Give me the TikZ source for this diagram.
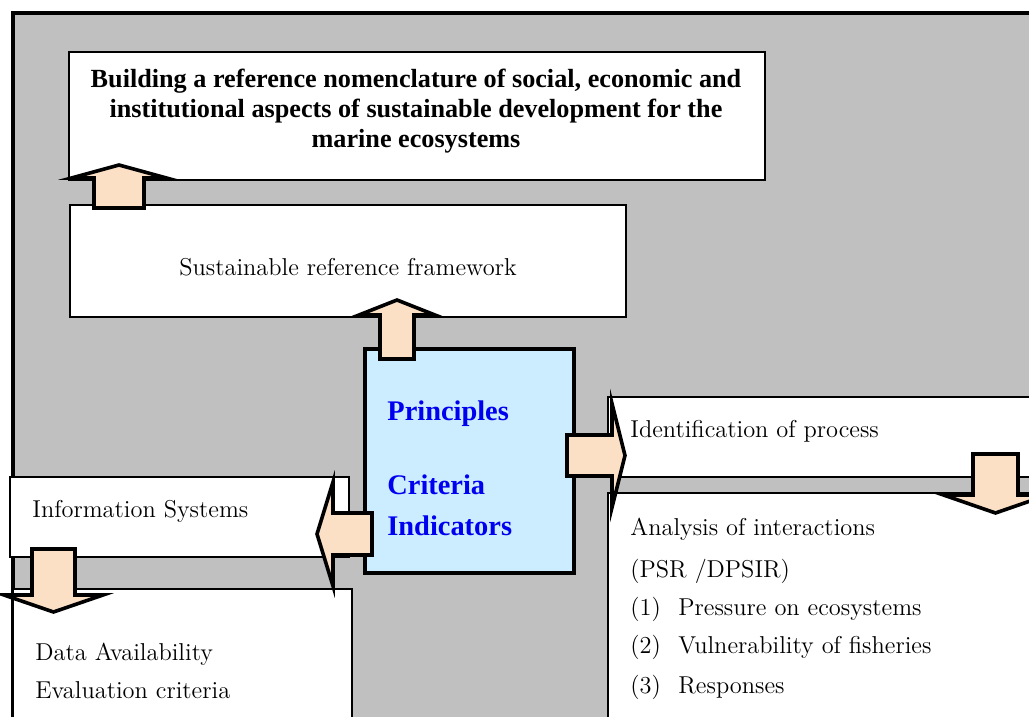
\documentclass[tikz,border=0pt]{standalone}
\usepackage{fontspec}
\newfontfamily\timesfont{Liberation Serif}
\usetikzlibrary{calc}
\definecolor{bggray}{HTML}{C0C0C0}
\definecolor{peach}{HTML}{FBE0C6}
\definecolor{paleblue}{HTML}{CCECFF}
\definecolor{pciblue}{HTML}{0000F0}
\tikzstyle{box} = [draw, fill=white, line width=0.7pt, anchor=north west, inner sep=0pt, outer sep=0pt]
\tikzstyle{txt} = [inner sep=0pt, anchor=base west, font=\fontsize{12.2}{14}\selectfont]
\tikzstyle{pcitxt} = [txt, text=pciblue, font=\timesfont\bfseries\fontsize{14.2}{16}\selectfont]
\tikzstyle{blockarrow} = [draw, fill=peach, line width=1.8pt, miter limit=20]
% fat arrow: from, to, half shaft, half head, head length (px)
\newcommand{\blockarrow}[5]{%
  \draw[blockarrow] let \p1=(#1), \p2=(#2),
    \n1={atan2(\y2-\y1,\x2-\x1)}, \n2={veclen(\x2-\x1,\y2-\y1)} in
    [shift={(\p1)}, rotate=\n1]
    (0pt,{#3*0.5pt}) -- ({\n2-#5*0.5pt},{#3*0.5pt}) -- ({\n2-#5*0.5pt},{#4*0.5pt})
    -- (\n2,0pt) -- ({\n2-#5*0.5pt},{-#4*0.5pt}) -- ({\n2-#5*0.5pt},{-#3*0.5pt})
    -- (0pt,{-#3*0.5pt}) -- cycle;}

\begin{document}
\begin{tikzpicture}[x=0.5pt, y=-0.5pt]
\clip (0,0) rectangle (1029,717);
\draw[fill=bggray, line width=2pt] (13,13) rectangle (1100,800);

% boxes
\node[box, minimum width=348pt, minimum height=64pt] (goal) at (69,52) {};
\node[box, minimum width=278pt, minimum height=56pt] (frame) at (70,205) {};
\node[box, minimum width=226pt, minimum height=40pt] (ident) at (608,397) {};
\node[box, minimum width=226pt, minimum height=140pt] (anal) at (608,493) {};
\node[box, minimum width=169.5pt, minimum height=40pt] (info) at (10,477) {};
\node[box, minimum width=169.5pt, minimum height=90pt] (data) at (13,589) {};
\node[box, fill=paleblue, line width=1.6pt, minimum width=104.5pt, minimum height=112pt] (pci) at (365,349) {};

% arrows
\blockarrow{$(frame.north west)+(49,3)$}{$(goal.south west)+(50,-15)$}{25}{47.5}{13}
\blockarrow{$(pci.north west)+(32,10)$}{$(frame.south west)+(327,-17)$}{17}{38}{15}
\blockarrow{$(pci.east)+(-7,-5.5)$}{$(ident.west)+(17,18.5)$}{20.5}{52}{13}
\blockarrow{$(pci.west)+(7,73)$}{$(info.east)+(-32,17)$}{21}{52}{16}
\blockarrow{$(ident.south west)+(387.5,-23)$}{$(anal.north west)+(387.5,20)$}{22.5}{52}{18}
\blockarrow{$(info.south west)+(43.5,-8)$}{$(data.north west)+(40.5,23)$}{21.5}{49.5}{17}

% texts
\node[inner sep=0pt, anchor=north, align=center, font=\timesfont\bfseries\fontsize{13.1}{15}\selectfont] (goaltxt) at (416,69)
  {Building a reference nomenclature of social, economic and\\
   institutional aspects of sustainable development for the\\
   marine ecosystems};
\node[txt, anchor=base] (frametxt) at (348,275) {Sustainable reference framework};
\node[pcitxt] (pri) at (387,420) {Principles};
\node[pcitxt] (cri) at (387,494) {Criteria};
\node[pcitxt] (ind) at (387,535) {Indicators};
\node[txt] (identtxt) at (630,437) {Identification of process};
\node[txt] (analtxt) at (630,535) {Analysis of interactions};
\node[txt] (psrtxt) at (630,577) {(PSR /DPSIR)};
\foreach \n/\t/\y in {1/Pressure on ecosystems/615, 2/Vulnerability of fisheries/653, 3/Responses/693}{
  \node[txt] (num\n) at (630,\y) {(\n)};
  \node[txt] (item\n) at (678,\y) {\t};
}
\node[txt] (infotxt) at (32,517) {Information Systems};
\node[txt] (datatxt) at (35,660) {Data Availability};
\node[txt] (evaltxt) at (35,698) {Evaluation criteria};
\end{tikzpicture}
\end{document}
